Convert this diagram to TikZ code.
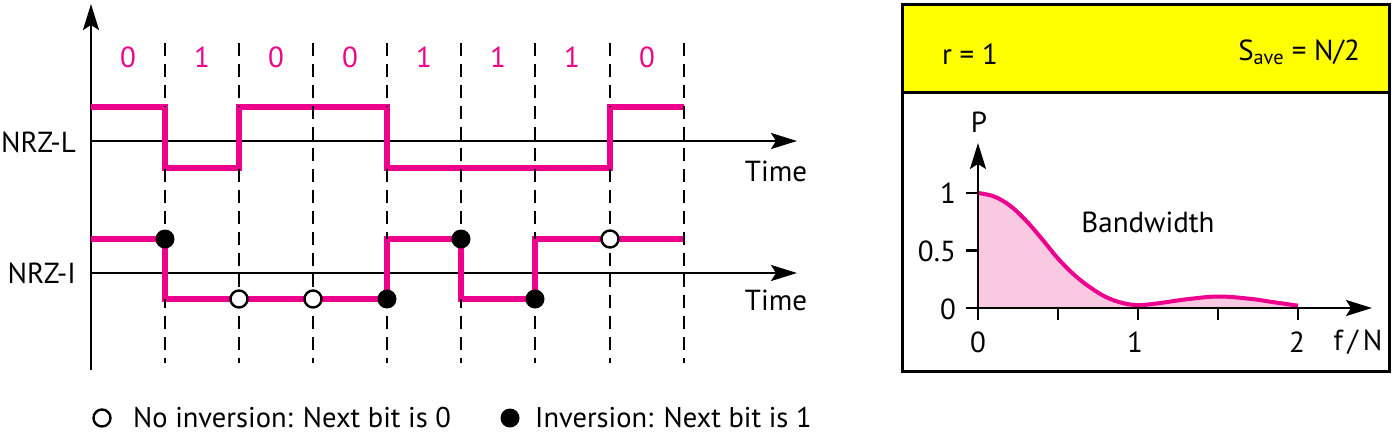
\documentclass[tikz,border=0pt]{standalone}
\usepackage{fontspec}
\setmainfont{PT Sans}
\usetikzlibrary{arrows.meta}
\definecolor{sig}{HTML}{EC008C}
\definecolor{sigfill}{HTML}{F9C8E1}
\definecolor{band}{HTML}{FFFF00}
\begin{document}
\begin{tikzpicture}[x=1pt,y=-1pt, font=\fontsize{29}{33}\selectfont,
  axis/.style={line width=2.2pt,-{Stealth[length=26pt,width=16pt,inset=5pt]}},
  sigline/.style={sig,line width=5.2pt,line join=miter},
  gridline/.style={line width=2.7pt,dash pattern=on 13pt off 8pt},
  bitlabel/.style={text=sig,inner sep=0pt},
  inv/.style={circle,fill=black,inner sep=0pt,minimum size=19pt},
  noinv/.style={circle,draw=black,fill=white,line width=2.4pt,inner sep=0pt,minimum size=17pt},
  lbl/.style={inner sep=0pt},
  legend/.style={inner sep=0pt,font=\fontsize{28.5}{32}\selectfont}]
\useasboundingbox (0,0) rectangle (1397,436);

% ---------- left: signals ----------
\coordinate (vb) at (91,370);
\coordinate (vt) at (91,4);
\draw[axis] (vb) -- (vt);

\coordinate (l0) at (91,141);  \coordinate (l1) at (797,141);
\coordinate (i0) at (91,273);  \coordinate (i1) at (797,273);
\draw[axis] (l0) -- (l1);
\draw[axis] (i0) -- (i1);

% NRZ-L
\draw[sigline] (91,107) -- (165,107) -- (165,168) -- (239,168) -- (239,107) -- (387,107)
   -- (387,168) -- (610,168) -- (610,107) -- (684,107);
% NRZ-I
\draw[sigline] (91,239) -- (165,239) -- (165,299) -- (387,299) -- (387,239) -- (461,239)
   -- (461,299) -- (535,299) -- (535,239) -- (684,239);

% dashed bit boundaries
\foreach \x in {165,239,313,387,461,535,610,684}
  \draw[gridline] (\x,43) -- (\x,363);

% redraw vertical transitions above the dashes
\draw[sigline] (165,107) -- (165,168);
\draw[sigline] (239,168) -- (239,107);
\draw[sigline] (387,107) -- (387,168);
\draw[sigline] (610,168) -- (610,107);
\draw[sigline] (165,239) -- (165,299);
\draw[sigline] (387,299) -- (387,239);
\draw[sigline] (461,239) -- (461,299);
\draw[sigline] (535,299) -- (535,239);

% bit values
\foreach \b/\x in {0/128,1/202,0/276,0/350,1/424,1/498,1/572,0/647}
  \node[bitlabel] at (\x,57) {\b};

% markers
\node[inv] (m1) at (165,239) {};
\node[noinv] (m2) at (239,299) {};
\node[noinv] (m3) at (313,299) {};
\node[inv] (m4) at (387,299) {};
\node[inv] (m5) at (461,239) {};
\node[inv] (m6) at (535,299) {};
\node[noinv] (m7) at (610,239) {};

% labels
\node[lbl,anchor=east] (nrzl) at (76,142) {NRZ-L};
\node[lbl,anchor=east] (nrzi) at (76,273) {NRZ-I};
\node[lbl] (time1) at (776,171) {Time};
\node[lbl] (time2) at (776,300) {Time};

% legend
\node[noinv] (lg1) at (102,418) {};
\node[legend,anchor=west] (lgt1) at (133,418) {No inversion: Next bit is 0};
\node[inv] (lg2) at (510,418) {};
\node[legend,anchor=west] (lgt2) at (535,418) {Inversion: Next bit is 1};

% ---------- right: spectrum panel ----------
\node[fill=band,draw=black,line width=3pt,anchor=north west,minimum width=487pt,minimum height=88pt,inner sep=0pt] (band) at (901,3) {};
\node[draw=black,line width=3pt,anchor=north west,minimum width=487pt,minimum height=367pt,inner sep=0pt] (panel) at (901,3) {};
\node[lbl] (rr) at (970,54) {r = 1};
\node[lbl,anchor=east] (save) at (1360,52) {S\textsubscript{ave} = N/2};

\begin{scope}[shift={(978,308)},x=160pt,y=115pt]
  \fill[sigfill] (0,0) -- plot[smooth,tension=0.6] coordinates {(0,1) (0.1,0.97) (0.2,0.89) (0.3,0.76) (0.4,0.6) (0.5,0.43) (0.6,0.29) (0.7,0.18) (0.8,0.095) (0.9,0.045) (1,0.025) (1.12,0.04) (1.3,0.075) (1.5,0.1) (1.7,0.08) (1.85,0.05) (2,0.02)} -- (2,0) -- cycle;
  \draw[sig,line width=4pt] plot[smooth,tension=0.6] coordinates {(0,1) (0.1,0.97) (0.2,0.89) (0.3,0.76) (0.4,0.6) (0.5,0.43) (0.6,0.29) (0.7,0.18) (0.8,0.095) (0.9,0.045) (1,0.025) (1.12,0.04) (1.3,0.075) (1.5,0.1) (1.7,0.08) (1.85,0.05) (2,0.02)};
  \coordinate (px0) at (0,-0.104);
  \coordinate (px1) at (2.4625,0);
  \coordinate (py1) at (0,1.435);
  \draw[axis] (px0) -- (py1);
  \draw[axis] (-0.075,0) -- (px1);
  \foreach \t in {0.5,1,1.5,2} \draw[line width=2.2pt] (\t,0) -- (\t,-0.104);
  \foreach \t in {0.5,1} \draw[line width=2.2pt] (-0.075,\t) -- (0,\t);
\end{scope}

\node[lbl] (pl) at (979,122) {P};
\node[lbl,anchor=east] (y1) at (956,193) {1};
\node[lbl,anchor=east] (y05) at (956,251) {0.5};
\node[lbl,anchor=east] (y0) at (956,309) {0};
\node[lbl] (x0) at (978,342) {0};
\node[lbl] (x1) at (1135,342) {1};
\node[lbl] (x2) at (1297,342) {2};
\node[lbl] (xl) at (1358,342) {f\,/\,N};
\node[lbl] (bw) at (1148,222) {Bandwidth};
\end{tikzpicture}
\end{document}
